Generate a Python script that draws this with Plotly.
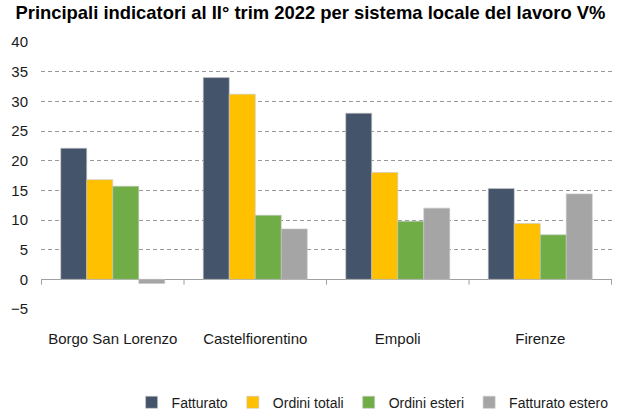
import plotly.graph_objects as go

categories = ["Borgo San Lorenzo", "Castelfiorentino", "Empoli", "Firenze"]
series_names = ["Fatturato", "Ordini totali", "Ordini esteri", "Fatturato estero"]
fatturato = [22.1, 34.0, 28.0, 15.3]
ordini_totali = [16.8, 31.2, 18.0, 9.4]
ordini_esteri = [15.7, 10.8, 9.8, 7.5]
fatturato_estero = [-0.7, 8.5, 12.0, 14.4]
y_ticks = [-5, 0, 5, 10, 15, 20, 25, 30, 35, 40]

colors = ["#44546A", "#FFC000", "#70AD47", "#A5A5A5"]
values = [fatturato, ordini_totali, ordini_esteri, fatturato_estero]

FONT = "Liberation Sans, Arial, sans-serif"

fig = go.Figure()
for name, vals, col in zip(series_names, values, colors):
    fig.add_trace(go.Bar(x=categories, y=vals, name=name,
                         marker=dict(color=col, line=dict(color="#C8C8C8", width=0.6))))

# category divider ticks on the zero line
for i in range(len(categories) + 1):
    fig.add_shape(type="line", xref="x", yref="y", x0=i - 0.5, x1=i - 0.5,
                  y0=0, y1=-0.9, line=dict(color="#A0A0A0", width=1))

fig.update_layout(
    width=621, height=413,
    margin=dict(l=41, r=9, t=42, b=104, autoexpand=False),
    paper_bgcolor="white", plot_bgcolor="white",
    barmode="group", bargap=0.27, bargroupgap=0,
    font=dict(family=FONT, size=15, color="#1a1a1a"),
    title=dict(text="<b>Principali indicatori al II° trim 2022 per sistema locale del lavoro V%</b>",
               x=0.5, xanchor="center", xref="container", y=0.985, yanchor="top",
               font=dict(family=FONT, size=18.4, color="#000000")),
    legend=dict(orientation="h", xref="container", yref="container",
                x=0.6, xanchor="center", y=0.025, yanchor="middle",
                font=dict(size=14), itemwidth=30, traceorder="normal"),
    xaxis=dict(showgrid=False, showline=False, ticks="", tickfont=dict(size=15),
               automargin=False, ticklabelstandoff=19),
    yaxis=dict(range=[-5, 40], tickvals=y_ticks, showgrid=True, gridcolor="#999999",
               griddash="4px,3px", gridwidth=1, zeroline=True, zerolinecolor="#A0A0A0",
               zerolinewidth=1, showline=False, ticks="", tickfont=dict(size=15),
               ticklabelstandoff=12, automargin=False),
)

fig.write_html("out.html", config={"displayModeBar": False},
               post_script="document.body.style.margin='0';document.body.style.padding='0';")
